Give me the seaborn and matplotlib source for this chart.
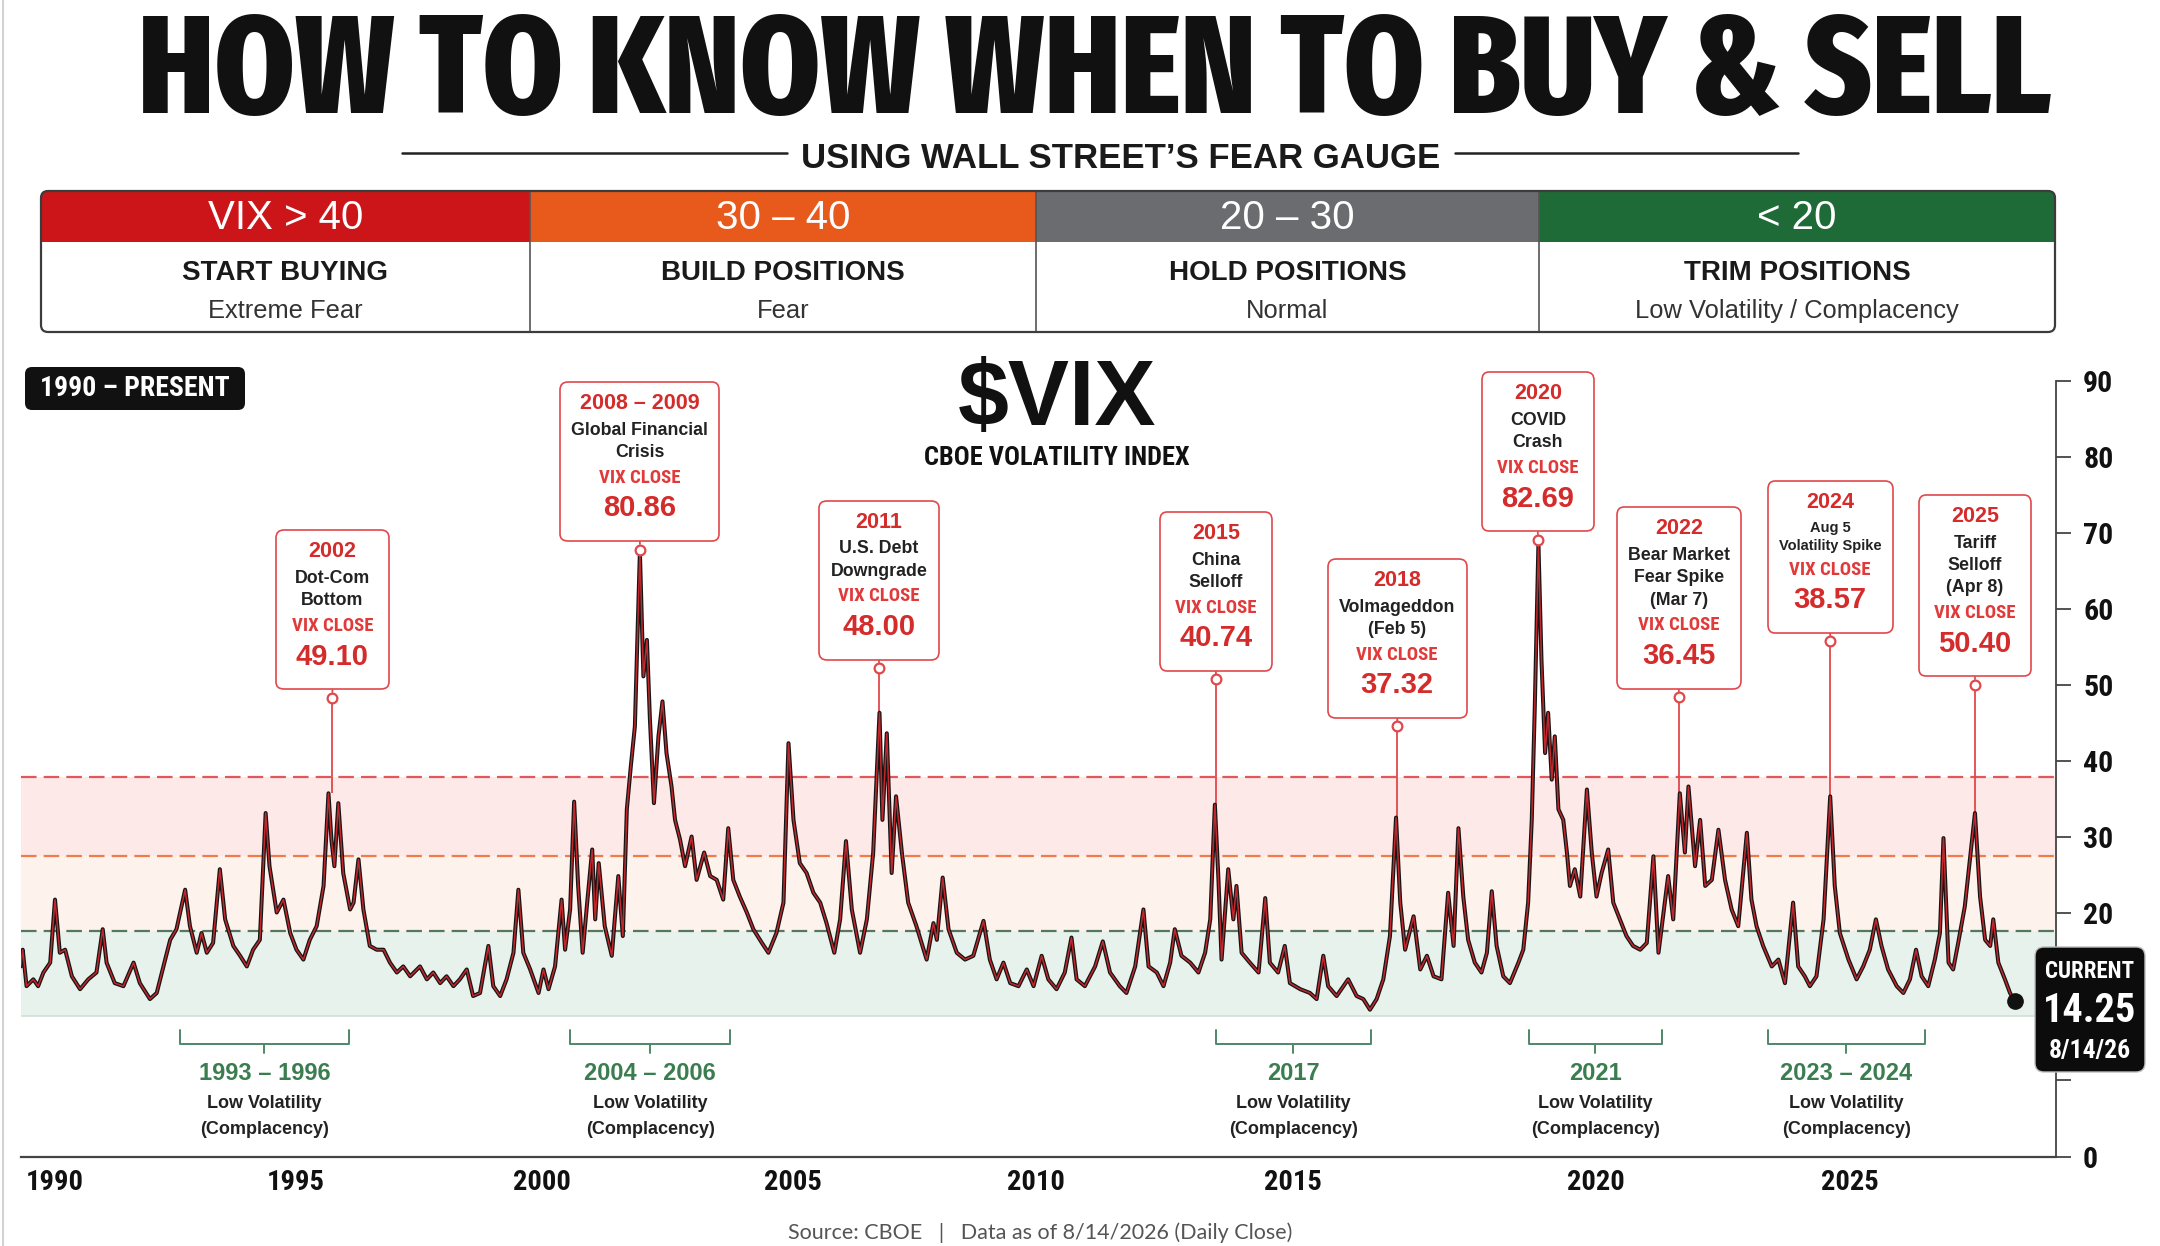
import os
import numpy as np
import matplotlib
matplotlib.use("Agg")
import matplotlib.pyplot as plt
import matplotlib.transforms as mtransforms
from matplotlib import font_manager
from matplotlib.font_manager import FontProperties
from matplotlib.patches import FancyBboxPatch, Rectangle
from matplotlib.offsetbox import AnnotationBbox, TextArea, VPacker, DrawingArea
import seaborn as sns

# ---------------------------------------------------------------- data
# VIX path as drawn in the reference (value on the chart's own right axis)
vix_year = [
    1989.29, 1989.33, 1989.41, 1989.55, 1989.65, 1989.76, 1989.90, 1990.00, 1990.10, 1990.21,
    1990.35, 1990.52, 1990.69, 1990.86, 1990.99, 1991.07, 1991.24, 1991.42, 1991.63, 1991.76,
    1991.97, 1992.11, 1992.25, 1992.39, 1992.52, 1992.70, 1992.80, 1992.94, 1993.04, 1993.15,
    1993.28, 1993.42, 1993.53, 1993.70, 1993.84, 1993.98, 1994.11, 1994.25, 1994.37, 1994.45,
    1994.60, 1994.74, 1994.88, 1995.01, 1995.15, 1995.28, 1995.42, 1995.56, 1995.66, 1995.72,
    1995.78, 1995.86, 1995.96, 1996.10, 1996.17, 1996.27, 1996.37, 1996.50, 1996.64, 1996.78,
    1996.91, 1997.05, 1997.18, 1997.32, 1997.52, 1997.66, 1997.79, 1997.93, 1998.06, 1998.20,
    1998.33, 1998.47, 1998.60, 1998.74, 1998.91, 1999.01, 1999.15, 1999.28, 1999.42, 1999.52,
    1999.62, 1999.76, 1999.93, 2000.03, 2000.13, 2000.26, 2000.39, 2000.46, 2000.56, 2000.64,
    2000.72, 2000.81, 2000.90, 2001.00, 2001.06, 2001.13, 2001.25, 2001.39, 2001.52, 2001.61,
    2001.69, 2001.77, 2001.85, 2001.95, 2002.02, 2002.09, 2002.15, 2002.23, 2002.32, 2002.40,
    2002.48, 2002.58, 2002.65, 2002.75, 2002.85, 2002.98, 2003.08, 2003.23, 2003.35, 2003.48,
    2003.61, 2003.71, 2003.81, 2003.94, 2004.08, 2004.21, 2004.38, 2004.51, 2004.67, 2004.81,
    2004.91, 2005.01, 2005.14, 2005.28, 2005.42, 2005.56, 2005.69, 2005.85, 2005.97, 2006.09,
    2006.21, 2006.38, 2006.52, 2006.65, 2006.78, 2006.84, 2006.93, 2007.03, 2007.12, 2007.24,
    2007.37, 2007.54, 2007.75, 2007.89, 2007.96, 2008.08, 2008.20, 2008.37, 2008.54, 2008.71,
    2008.92, 2009.05, 2009.19, 2009.33, 2009.47, 2009.64, 2009.81, 2009.95, 2010.11, 2010.24,
    2010.40, 2010.56, 2010.69, 2010.79, 2010.95, 2011.15, 2011.30, 2011.44, 2011.63, 2011.76,
    2011.93, 2012.09, 2012.19, 2012.35, 2012.48, 2012.61, 2012.70, 2012.83, 2013.00, 2013.16,
    2013.29, 2013.39, 2013.48, 2013.55, 2013.61, 2013.74, 2013.84, 2013.90, 2014.00, 2014.16,
    2014.33, 2014.46, 2014.55, 2014.71, 2014.84, 2014.94, 2015.12, 2015.28, 2015.39, 2015.50,
    2015.58, 2015.72, 2015.91, 2016.05, 2016.16, 2016.27, 2016.38, 2016.49, 2016.60, 2016.70,
    2016.77, 2016.85, 2016.99, 2017.10, 2017.21, 2017.32, 2017.45, 2017.56, 2017.65, 2017.73,
    2017.81, 2017.89, 2018.00, 2018.11, 2018.20, 2018.28, 2018.36, 2018.47, 2018.58, 2018.72,
    2018.80, 2018.88, 2018.94, 2018.99, 2019.05, 2019.10, 2019.16, 2019.21, 2019.27, 2019.32,
    2019.38, 2019.46, 2019.52, 2019.57, 2019.65, 2019.74, 2019.85, 2019.93, 2020.01, 2020.11,
    2020.24, 2020.34, 2020.47, 2020.60, 2020.73, 2020.87, 2021.00, 2021.13, 2021.23, 2021.33,
    2021.42, 2021.52, 2021.65, 2021.75, 2021.82, 2021.95, 2022.05, 2022.15, 2022.28, 2022.41,
    2022.54, 2022.67, 2022.80, 2022.97, 2023.06, 2023.16, 2023.29, 2023.46, 2023.59, 2023.72,
    2023.88, 2023.98, 2024.11, 2024.21, 2024.34, 2024.48, 2024.61, 2024.70, 2024.80, 2024.97,
    2025.13, 2025.26, 2025.39, 2025.51, 2025.62, 2025.75, 2025.92, 2026.05, 2026.18, 2026.30,
    2026.41, 2026.54, 2026.67, 2026.77, 2026.84, 2026.94, 2027.03, 2027.13, 2027.26, 2027.36,
    2027.46, 2027.56, 2027.66, 2027.76, 2027.82, 2027.92, 2028.05, 2028.15, 2028.25,
]
vix_close = [
    12.9, 15.1, 10.3, 11.2, 10.3, 12.1, 13.4, 21.7, 14.7, 15.1,
    11.6, 9.9, 11.2, 12.1, 17.8, 13.4, 10.7, 10.3, 13.4, 10.7,
    8.6, 9.4, 12.9, 16.4, 17.8, 23.0, 18.2, 14.7, 17.3, 14.7,
    16.0, 25.7, 19.1, 15.6, 14.3, 12.9, 15.1, 16.4, 33.1, 26.1,
    20.0, 21.7, 17.3, 15.1, 13.8, 16.4, 18.2, 23.5, 35.7, 29.6,
    26.1, 34.4, 25.2, 20.4, 21.3, 27.0, 20.4, 15.6, 15.1, 15.1,
    13.4, 12.1, 12.9, 11.6, 12.9, 11.2, 12.1, 10.7, 11.6, 10.3,
    11.2, 12.5, 9.0, 9.4, 15.6, 10.3, 9.0, 11.2, 14.7, 23.0,
    14.7, 12.5, 9.4, 12.5, 9.9, 12.9, 21.7, 15.1, 20.4, 34.6,
    23.5, 14.7, 21.3, 28.3, 19.1, 26.5, 18.2, 14.3, 24.8, 16.9,
    33.6, 39.3, 44.5, 67.5, 51.1, 55.9, 45.4, 34.4, 43.2, 47.8,
    41.0, 36.6, 32.2, 29.6, 26.1, 30.0, 24.3, 27.9, 24.8, 24.3,
    21.7, 31.1, 24.3, 22.1, 20.0, 17.8, 16.0, 14.7, 17.3, 21.3,
    42.3, 32.2, 26.5, 25.2, 22.6, 21.3, 18.6, 14.7, 19.1, 29.4,
    20.4, 14.7, 19.1, 27.9, 46.3, 32.2, 43.6, 25.2, 35.3, 27.9,
    21.3, 18.2, 13.8, 18.6, 16.4, 24.6, 17.8, 14.7, 13.8, 14.3,
    18.9, 13.8, 11.2, 13.4, 10.7, 10.3, 12.5, 10.3, 14.3, 11.2,
    9.9, 12.1, 16.7, 11.2, 10.3, 12.9, 16.2, 12.1, 10.3, 9.4,
    12.9, 20.4, 12.9, 12.1, 10.3, 13.4, 17.8, 14.3, 13.4, 12.1,
    14.7, 19.1, 34.2, 24.3, 13.8, 25.7, 19.1, 23.5, 14.7, 13.4,
    12.1, 21.9, 13.4, 12.1, 15.6, 10.7, 9.9, 9.4, 8.6, 14.3,
    10.3, 9.0, 11.2, 9.0, 8.6, 7.2, 8.6, 11.2, 16.9, 32.5,
    21.3, 15.1, 19.5, 12.5, 14.3, 11.6, 11.2, 22.6, 15.6, 31.1,
    22.1, 16.4, 13.4, 12.1, 14.7, 22.8, 15.6, 11.6, 10.7, 13.4,
    15.1, 21.3, 32.2, 47.1, 68.6, 53.3, 41.0, 46.3, 37.5, 43.2,
    33.6, 32.2, 27.9, 23.5, 25.7, 22.1, 36.2, 27.9, 22.1, 25.2,
    28.3, 21.3, 19.1, 16.9, 15.6, 15.1, 16.0, 27.4, 14.7, 20.0,
    24.8, 19.1, 35.7, 27.9, 36.6, 26.1, 32.2, 23.5, 24.3, 30.9,
    24.3, 20.4, 18.2, 30.5, 21.7, 18.2, 15.6, 12.9, 13.8, 10.7,
    21.3, 12.9, 11.6, 10.3, 11.6, 19.1, 35.3, 23.5, 17.3, 13.8,
    11.2, 12.9, 15.1, 19.1, 15.6, 12.5, 10.3, 9.4, 11.2, 15.1,
    11.6, 10.3, 13.8, 17.3, 29.8, 13.4, 12.5, 16.0, 20.8, 27.0,
    33.1, 22.1, 16.4, 15.6, 19.1, 13.4, 11.2, 9.4, 8.3,
]

axis_years = [1990, 1995, 2000, 2005, 2010, 2015, 2020, 2025]
axis_year_labels = ["1990", "1995", "2000", "2005", "2010", "2015", "2020", "2025"]
value_ticks = [90, 80, 70, 60, 50, 40, 30, 20, -2.0, -12.2]
value_tick_labels = ["90", "80", "70", "60", "50", "40", "30", "20", "", "0"]

# dashed zone lines and the floor of the green zone, as drawn
zone_red, zone_orange, zone_green, zone_floor = 37.9, 27.5, 17.5, 6.4

event_year = [1995.74, 2001.95, 2006.77, 2013.50, 2016.72, 2019.04, 2021.63, 2024.61, 2027.46]
event_dot = [48.3, 67.8, 52.2, 50.7, 44.5, 69.1, 48.4, 55.7, 50.0]
event_peak = [35.7, 67.5, 46.3, 34.2, 32.5, 68.6, 35.7, 35.3, 33.1]
event_title = ["2002", "2008 – 2009", "2011", "2015", "2018", "2020", "2022", "2024", "2025"]
event_desc = ["Dot-Com\nBottom", "Global Financial\nCrisis", "U.S. Debt\nDowngrade",
              "China\nSelloff", "Volmageddon\n(Feb 5)", "COVID\nCrash",
              "Bear Market\nFear Spike\n(Mar 7)", "Aug 5\nVolatility Spike",
              "Tariff\nSelloff\n(Apr 8)"]
event_close = ["49.10", "80.86", "48.00", "40.74", "37.32", "82.69", "36.45", "38.57", "50.40"]

calm_start = [1992.60, 2000.56, 2013.50, 2018.90, 2023.38]
calm_end = [1996.07, 2003.75, 2016.28, 2021.29, 2026.47]
calm_label = ["1993 – 1996", "2004 – 2006", "2017", "2021", "2023 – 2024"]

header_range = ["VIX > 40", "30 – 40", "20 – 30", "< 20"]
header_action = ["START BUYING", "BUILD POSITIONS", "HOLD POSITIONS", "TRIM POSITIONS"]
header_mood = ["Extreme Fear", "Fear", "Normal", "Low Volatility / Complacency"]
header_color = ["#CC1518", "#E8591C", "#6B6C6F", "#1F6B37"]

current_value = "14.25"
current_date = "8/14/26"

# ---------------------------------------------------------------- fonts
sns.set_theme(style="white")
_names = {f.name for f in font_manager.fontManager.ttflist}
SANS = "Liberation Sans" if "Liberation Sans" in _names else "DejaVu Sans"
FOOT = "Lato" if "Lato" in _names else SANS
plt.rcParams["font.family"] = [SANS, "DejaVu Sans"]


def _weight(f):
    w = f.weight
    return w if isinstance(w, (int, float)) else font_manager.weight_dict.get(w, 400)


def find_face(tests, weight):
    faces = [f for f in font_manager.fontManager.ttflist
             if f.style == "normal" and "italic" not in os.path.basename(f.fname).lower()]
    for test in tests:
        hits = [f for f in faces if test(os.path.basename(f.fname).lower())]
        if hits:
            best = min(hits, key=lambda f: abs(_weight(f) - weight))
            if abs(_weight(best) - weight) <= 200:
                return best.fname
    return None


narrow_tests = [
    lambda b: "liberationsansnarrow" in b,
    lambda b: "robotocondensed" in b,
    lambda b: b.startswith("notosans-condensed"),
    lambda b: "opensans" in b and "condensed" in b and "semi" not in b,
    lambda b: "dejavusanscondensed" in b,
    lambda b: "condensed" in b and "semi" not in b and "extra" not in b
              and "mono" not in b and "serif" not in b,
    lambda b: "narrow" in b,
]
title_tests = [
    lambda b: "extracondensed" in b and "sans" in b and "mono" not in b and "semi" not in b,
] + narrow_tests

NARROW_FILE = find_face(narrow_tests, 700)
TITLE_FILE = find_face(title_tests, 800)


def narrow(size):
    if NARROW_FILE:
        return FontProperties(fname=NARROW_FILE, size=size)
    return FontProperties(family=SANS, weight="bold", size=size)


def heavy(size):
    if TITLE_FILE:
        return FontProperties(fname=TITLE_FILE, size=size)
    return narrow(size)


def fit(text, max_px, renderer):
    w = text.get_window_extent(renderer).width
    if w > max_px:
        text.set_fontsize(text.get_fontsize() * max_px / w)


RED = "#D42B2B"
RED_LINE = "#E0484B"
GREEN_TXT = "#3A7D4F"
GREEN_LINE = "#4F876A"

# ---------------------------------------------------------------- layout
W, H = 2160, 1246
fig = plt.figure(figsize=(W / 100, H / 100), dpi=100)
fig.patch.set_facecolor("white")
renderer = fig.canvas.get_renderer()

canvas = fig.add_axes([0, 0, 1, 1])
canvas.set_xlim(0, W)
canvas.set_ylim(H, 0)
canvas.axis("off")

# the reference's time axis is not evenly spaced: pixel column of each year tick
TICK_PX = [55, 296, 542, 793, 1036, 1293, 1596, 1850]
anchor_years = np.r_[1980, axis_years, 2040]
anchor_px = np.r_[55 - 10 * 48.2, TICK_PX, 1850 + 15 * 50.8]


def year_to_px(x):
    return np.interp(x, anchor_years, anchor_px)


def px_to_year(p):
    return np.interp(p, anchor_px, anchor_years)


PLOT_L, PLOT_R, PLOT_T, PLOT_B = 20.7, 2056, 381, 1157
ax = fig.add_axes([PLOT_L / W, 1 - PLOT_B / H, (PLOT_R - PLOT_L) / W, (PLOT_B - PLOT_T) / H])
ax.set_facecolor("none")

# zones
ax.axhspan(zone_orange, zone_red, color="#FDEAE8", lw=0, zorder=0)
ax.axhspan(zone_green, zone_orange, color="#FEF2EC", lw=0, zorder=0)
ax.axhspan(zone_floor, zone_green, color="#E6F2EB", lw=0, zorder=0)
ax.axhline(zone_floor, color="#CFE0D5", lw=1.2, zorder=0.5)
ax.axhline(zone_red, color="#E2585A", lw=1.6, dashes=(7, 3.2), zorder=1)
ax.axhline(zone_orange, color="#F07B4B", lw=1.6, dashes=(7, 3.2), zorder=1)
ax.axhline(zone_green, color="#55765F", lw=1.6, dashes=(7, 3.2), zorder=1)

# the VIX line: dark body with a red core
sns.lineplot(x=vix_year, y=vix_close, ax=ax, color="#151515", lw=2.9,
             estimator=None, errorbar=None, zorder=3)
sns.lineplot(x=vix_year, y=vix_close, ax=ax, color="#C0282D", lw=1.1,
             estimator=None, errorbar=None, zorder=4)
ax.plot(vix_year[-1], vix_close[-1], "o", color="#111111", ms=11, zorder=6, clip_on=False)

ax.set_xscale("function", functions=(year_to_px, px_to_year))
ax.set_xlim(px_to_year(PLOT_L), px_to_year(PLOT_R))
ax.set_ylim(value_ticks[-1], value_ticks[0])
ax.set_xlabel("")
ax.set_ylabel("")
ax.grid(False)

for side in ["top", "left"]:
    ax.spines[side].set_visible(False)
ax.spines["right"].set_bounds(value_ticks[-1], value_ticks[0])
ax.spines["right"].set_color("#444444")
ax.spines["right"].set_linewidth(1.3)
ax.spines["bottom"].set_color("#444444")
ax.spines["bottom"].set_linewidth(1.6)

ax.yaxis.tick_right()
ax.set_yticks(value_ticks, value_tick_labels, fontproperties=narrow(21.5), color="#111111")
ax.set_xticks(axis_years, axis_year_labels, fontproperties=narrow(20.5), color="#111111")
ax.xaxis.set_minor_locator(matplotlib.ticker.NullLocator())
ax.tick_params(axis="y", direction="out", length=10.5, width=1.3, pad=9, colors="#444444",
               labelcolor="#111111")
ax.tick_params(axis="x", direction="out", length=6, width=1.3, pad=3, colors="#444444",
               labelcolor="#111111")

# event call-outs
for yr, dot, peak, ttl, desc, close in zip(event_year, event_dot, event_peak,
                                           event_title, event_desc, event_close):
    ax.vlines(yr, peak, dot, color=RED_LINE, lw=1.3, zorder=2)
    small = ttl == "2024"
    parts = [
        TextArea(ttl, textprops=dict(color=RED, fontsize=15.5, fontweight="bold", family=SANS)),
        TextArea(desc, textprops=dict(color="#222222", fontsize=10.5 if small else 12.8,
                                      fontweight="bold", family=SANS,
                                      multialignment="center", linespacing=1.4)),
        TextArea("VIX CLOSE", textprops=dict(color="#E03A3A", fontproperties=narrow(13.5))),
        TextArea(close, textprops=dict(color=RED, fontsize=21, fontweight="bold",
                                       family=SANS)),
        DrawingArea(65, 0),
    ]
    box = VPacker(children=parts, align="center", pad=0, sep=5.5)
    ab = AnnotationBbox(box, (yr, dot), xybox=(0, 14), xycoords="data",
                        boxcoords="offset points", box_alignment=(0.5, 0), fontsize=10,
                        bboxprops=dict(boxstyle="round,pad=0.8,rounding_size=0.55",
                                       ec=RED_LINE, fc="white", lw=1.2),
                        arrowprops=dict(arrowstyle="-", color=RED_LINE, lw=1.3,
                                        shrinkA=0, shrinkB=4),
                        annotation_clip=False, zorder=7)
    ax.add_artist(ab)
    ax.plot(yr, dot, "o", ms=7, mfc="white", mec=RED_LINE, mew=1.6, zorder=8, clip_on=False)

# low-volatility brackets (x in years, y in picture pixels)
blend = mtransforms.blended_transform_factory(ax.transData, canvas.transData)
for s, e, lab in zip(calm_start, calm_end, calm_label):
    mid = px_to_year((year_to_px(s) + year_to_px(e)) / 2)
    ax.plot([s, s, e, e], [1030, 1044, 1044, 1030], color=GREEN_LINE, lw=1.4,
            transform=blend, clip_on=False, zorder=5)
    ax.plot([mid, mid], [1044, 1053], color=GREEN_LINE, lw=1.4,
            transform=blend, clip_on=False, zorder=5)
    ax.text(mid, 1074, lab, transform=blend, ha="center", va="center", fontsize=17,
            fontweight="bold", family=SANS, color=GREEN_TXT)
    ax.text(mid, 1104, "Low Volatility", transform=blend, ha="center", va="center",
            fontsize=13, fontweight="bold", family=SANS, color="#222222")
    ax.text(mid, 1130, "(Complacency)", transform=blend, ha="center", va="center",
            fontsize=13, fontweight="bold", family=SANS, color="#222222")

# ---------------------------------------------------------------- header block
title = canvas.text(1095, 113, "HOW TO KNOW WHEN TO BUY & SELL", ha="center", va="baseline",
                    fontproperties=heavy(100), color="#111111")
title.set_fontsize(100 * 1915 / title.get_window_extent(renderer).width)

sub = canvas.text(1121, 168, "USING WALL STREET’S FEAR GAUGE", ha="center", va="baseline",
                  fontsize=25, fontweight="bold", family=SANS, color="#1a1a1a")
sb = sub.get_window_extent(renderer)
canvas.plot([402, sb.x0 - 14], [153, 153], color="#222222", lw=1.8)
canvas.plot([sb.x1 + 14, 1798], [153, 153], color="#222222", lw=1.8)

x_edges = [41, 530, 1036, 1539, 2055]
t_top, t_mid, t_bot = 191, 242, 332
body = FancyBboxPatch((x_edges[0], t_top), x_edges[-1] - x_edges[0], t_bot - t_top,
                      boxstyle="round,pad=0,rounding_size=7", fc="white", ec="none", zorder=1)
canvas.add_patch(body)
for i in range(4):
    r = Rectangle((x_edges[i], t_top), x_edges[i + 1] - x_edges[i], t_mid - t_top,
                  fc=header_color[i], ec="none", zorder=2)
    canvas.add_patch(r)
    r.set_clip_path(body)
    xc = (x_edges[i] + x_edges[i + 1]) / 2
    canvas.text(xc, 218, header_range[i], ha="center", va="center", fontsize=29,
                family=SANS, color="white", zorder=4)
    canvas.text(xc, 272.5, header_action[i], ha="center", va="center", fontsize=20,
                fontweight="bold", family=SANS, color="#1a1a1a", zorder=4)
    canvas.text(xc, 311, header_mood[i], ha="center", va="center", fontsize=18.4,
                family=SANS, color="#333333", zorder=4)
    if i > 0:
        canvas.plot([x_edges[i], x_edges[i]], [t_top, t_bot], color="#555555", lw=1.2, zorder=3)
canvas.add_patch(FancyBboxPatch((x_edges[0], t_top), x_edges[-1] - x_edges[0], t_bot - t_top,
                                boxstyle="round,pad=0,rounding_size=7", fc="none",
                                ec="#3c3c3c", lw=1.6, zorder=5))

# period tag and chart title
canvas.add_patch(FancyBboxPatch((25, 367), 220, 43, boxstyle="round,pad=0,rounding_size=7",
                                fc="#111111", ec="none"))
tag = canvas.text(135, 389, "1990 – PRESENT", ha="center", va="center",
                  fontproperties=narrow(20), color="white")
fit(tag, 198, renderer)
canvas.text(1057, 425, "$VIX", ha="center", va="baseline", fontsize=66,
            fontweight="bold", family=SANS, color="#111111")
canvas.text(1057, 458, "CBOE VOLATILITY INDEX", ha="center", va="center",
            fontproperties=narrow(19), color="#111111")

canvas.plot([3, 3], [0, H], color="#d2d2d2", lw=1.5)
canvas.text(1040, 1233, "Source: CBOE   |   Data as of 8/14/2026 (Daily Close)",
            ha="center", va="center", fontsize=15.5, family=FOOT, color="#555555")

# current reading badge, drawn above the chart
top = fig.add_axes([0, 0, 1, 1], zorder=5)
top.set_xlim(0, W)
top.set_ylim(H, 0)
top.axis("off")
top.add_patch(FancyBboxPatch((2035, 947), 110, 125, boxstyle="round,pad=0,rounding_size=9",
                             fc="#0c0c0c", ec="#bdbdbd", lw=1))
for txt, yy, size in [("CURRENT", 971, 16.5), (current_value, 1011, 29), (current_date, 1051, 18.5)]:
    t = top.text(2090, yy, txt, ha="center", va="center", fontproperties=narrow(size),
                 color="white")
    fit(t, 96, renderer)

fig.savefig("out.png", dpi=100, facecolor="white")
